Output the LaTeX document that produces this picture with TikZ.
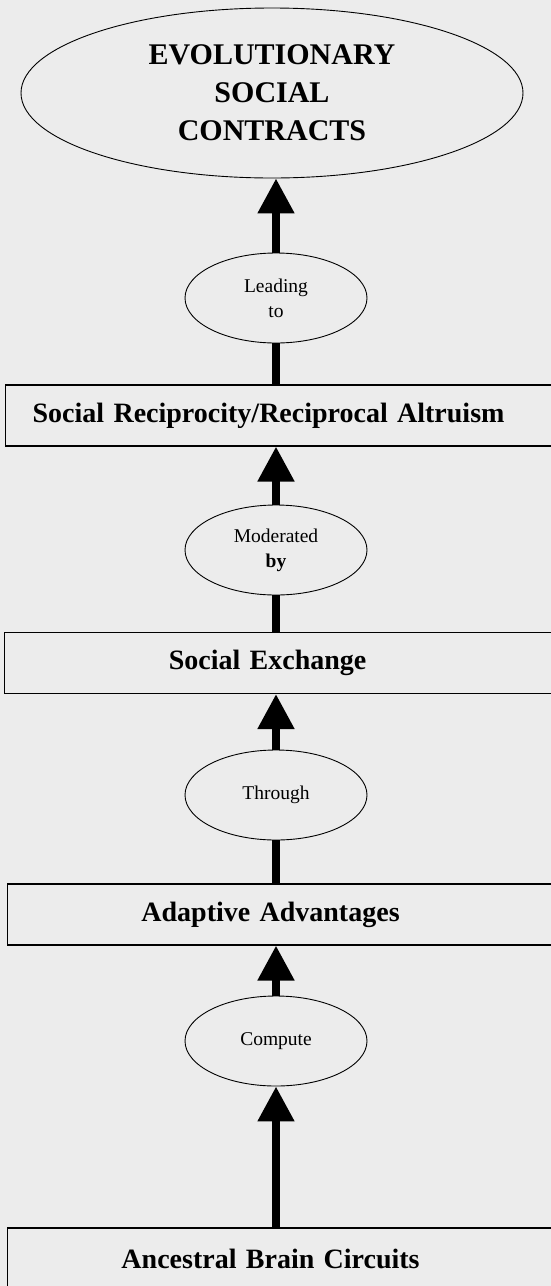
\documentclass[tikz,border=0pt]{standalone}
\usepackage{fontspec}
\setmainfont{Liberation Serif}
\usetikzlibrary{arrows.meta,shapes.geometric}
\definecolor{paper}{gray}{0.925}
\newcommand{\stagelabel}[1]{\makebox[526pt]{#1}}
\tikzset{
    goal/.style={draw,ellipse,line width=0.9pt,minimum width=502pt,minimum height=170pt,
        inner sep=0pt,align=center,font=\fontsize{30}{38}\selectfont\bfseries},
    link/.style={draw,ellipse,line width=0.9pt,minimum width=182pt,minimum height=90pt,
        inner sep=0pt,align=center,font=\fontsize{19.5}{25}\selectfont},
    stage/.style={draw,rectangle,line width=1.1pt,anchor=west,minimum height=61pt,
        text width=560pt,inner xsep=0pt,align=left,font=\fontsize{28}{32}\selectfont\bfseries},
    shaft/.style={line width=8pt},
    up/.style={shaft,-{Triangle[length=35pt,width=35pt]}}
}
\begin{document}
\begin{tikzpicture}[x=1pt,y=-1pt]
    \fill[paper] (0,0) rectangle (551,1286);
    \useasboundingbox (0,0) rectangle (551,1286);
    % ellipses
    \node[goal] (goal) at (272,93) {EVOLUTIONARY\\SOCIAL\\CONTRACTS};
    \node[link] (lead) at (276,298) {Leading\\to};
    \node[link] (moder) at (276,550) {Moderated\\\textbf{by}};
    \node[link] (through) at (276,795) {Through};
    \node[link] (compute) at (276,1041) {Compute};
    % boxes
    \node[stage] (recip) at (5,415.5) {\stagelabel{Social Reciprocity/Reciprocal Altruism}};
    \node[stage] (exch) at (4,663) {\stagelabel{Social Exchange}};
    \node[stage] (adapt) at (7,914.5) {\stagelabel{Adaptive Advantages}};
    \node[stage] (brain) at (7,1258.5) {\stagelabel{Ancestral Brain Circuits}};
    % connectors
    \draw[up] (compute.north |- brain.north) -- (compute.south);
    \draw[up] (compute.north) -- (compute.north |- adapt.south);
    \draw[shaft] (through.north |- adapt.north) -- (through.south);
    \draw[up] (through.north) -- (through.north |- exch.south);
    \draw[shaft] (moder.north |- exch.north) -- (moder.south);
    \draw[up] (moder.north) -- (moder.north |- recip.south);
    \draw[shaft] (lead.north |- recip.north) -- (lead.south);
    \draw[up] (lead.north) -- (lead.north |- goal.south);
\end{tikzpicture}
\end{document}
